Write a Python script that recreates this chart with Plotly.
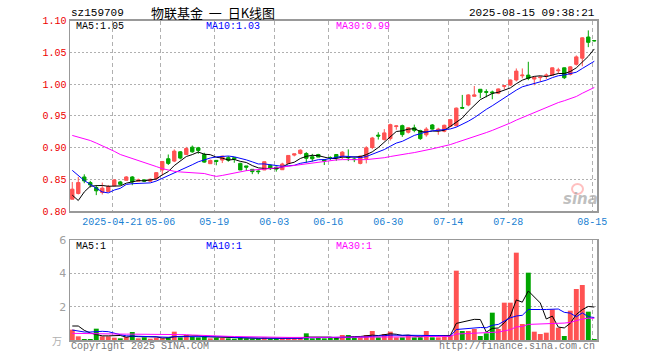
import numpy as np
import pandas as pd
import plotly.graph_objects as go

# ---------------- data ----------------
dates = pd.bdate_range("2025-04-10", "2025-08-15", freq="C",
                       holidays=["2025-05-01", "2025-05-02", "2025-05-05", "2025-06-02"])
dates = [d.strftime("%Y-%m-%d") for d in dates]

open_ = [0.8185, 0.8276, 0.8536, 0.8448, 0.8370, 0.8292, 0.8308, 0.8396, 0.8458, 0.8484,
         0.8536, 0.8470, 0.8490, 0.8470, 0.8510, 0.8646, 0.8823, 0.8786, 0.8932, 0.8890,
         0.9005, 0.8995, 0.8890, 0.8745, 0.8797, 0.8802, 0.8840, 0.8840, 0.8750, 0.8710,
         0.8656, 0.8630, 0.8646, 0.8719, 0.8690, 0.8650, 0.8750, 0.8880, 0.8906, 0.8906,
         0.8854, 0.8890, 0.8807, 0.8843, 0.8890, 0.8867, 0.8850, 0.8820, 0.8750, 0.8828,
         0.9000, 0.9195, 0.9125, 0.9140, 0.9330, 0.9344, 0.9240, 0.9310, 0.9266, 0.9200,
         0.9355, 0.9266, 0.9255, 0.9333, 0.9344, 0.9630, 0.9670, 0.9807, 0.9917, 0.9880,
         0.9875, 0.9855, 0.9963, 0.9984, 1.0063, 1.0130, 1.0140, 1.0078, 1.0100, 1.0130,
         1.0140, 1.0208, 1.0255, 1.0151, 1.0310, 1.0406, 1.0740, 1.0685]
high = [0.8457, 0.8536, 0.8578, 0.8474, 0.8410, 0.8448, 0.8410, 0.8500, 0.8474, 0.8550,
        0.8550, 0.8510, 0.8500, 0.8510, 0.8614, 0.8780, 0.8890, 0.8970, 0.8943, 0.9010,
        0.9031, 0.9010, 0.8917, 0.8810, 0.8800, 0.8870, 0.8864, 0.8840, 0.8760, 0.8710,
        0.8660, 0.8640, 0.8780, 0.8730, 0.8700, 0.8760, 0.8875, 0.8900, 0.8970, 0.8927,
        0.8900, 0.8900, 0.8810, 0.8860, 0.8890, 0.8943, 0.8970, 0.8840, 0.8875, 0.9020,
        0.9167, 0.9240, 0.9290, 0.9375, 0.9350, 0.9360, 0.9320, 0.9360, 0.9280, 0.9320,
        0.9370, 0.9310, 0.9360, 0.9450, 0.9630, 0.9828, 0.9840, 0.9969, 0.9920, 0.9917,
        0.9896, 0.9930, 0.9980, 1.0070, 1.0245, 1.0245, 1.0350, 1.0110, 1.0120, 1.0167,
        1.0260, 1.0255, 1.0260, 1.0280, 1.0450, 1.0735, 1.0844, 1.0690]
low = [0.8185, 0.8260, 0.8438, 0.8370, 0.8250, 0.8260, 0.8300, 0.8396, 0.8406, 0.8480,
       0.8406, 0.8460, 0.8460, 0.8460, 0.8484, 0.8560, 0.8724, 0.8770, 0.8813, 0.8890,
       0.8917, 0.8900, 0.8760, 0.8745, 0.8720, 0.8755, 0.8776, 0.8760, 0.8646, 0.8630,
       0.8580, 0.8580, 0.8646, 0.8646, 0.8620, 0.8646, 0.8750, 0.8860, 0.8890, 0.8760,
       0.8780, 0.8849, 0.8724, 0.8800, 0.8790, 0.8818, 0.8786, 0.8770, 0.8735, 0.8750,
       0.8974, 0.9125, 0.9110, 0.9110, 0.9280, 0.9167, 0.9220, 0.9240, 0.9120, 0.9170,
       0.9280, 0.9200, 0.9240, 0.9320, 0.9330, 0.9615, 0.9650, 0.9800, 0.9776, 0.9790,
       0.9760, 0.9840, 0.9917, 0.9970, 1.0040, 1.0090, 1.0060, 0.9980, 1.0040, 1.0078,
       1.0130, 1.0167, 1.0078, 1.0135, 1.0290, 1.0280, 1.0580, 1.0670]
close = [0.8344, 0.8448, 0.8474, 0.8411, 0.8318, 0.8360, 0.8386, 0.8490, 0.8420, 0.8536,
         0.8458, 0.8490, 0.8470, 0.8500, 0.8604, 0.8780, 0.8750, 0.8943, 0.8833, 0.8984,
         0.8932, 0.8953, 0.8770, 0.8797, 0.8780, 0.8864, 0.8800, 0.8820, 0.8646, 0.8690,
         0.8620, 0.8620, 0.8776, 0.8667, 0.8660, 0.8740, 0.8875, 0.8900, 0.8958, 0.8830,
         0.8823, 0.8849, 0.8786, 0.8840, 0.8840, 0.8927, 0.8840, 0.8810, 0.8864, 0.8995,
         0.9150, 0.9180, 0.9230, 0.9360, 0.9340, 0.9203, 0.9310, 0.9270, 0.9140, 0.9290,
         0.9290, 0.9290, 0.9350, 0.9438, 0.9620, 0.9620, 0.9828, 0.9828, 0.9870, 0.9870,
         0.9860, 0.9922, 0.9974, 1.0063, 1.0203, 1.0140, 1.0090, 1.0104, 1.0109, 1.0140,
         1.0255, 1.0220, 1.0099, 1.0270, 1.0427, 1.0727, 1.0656, 1.0680]
volume = [0.62, 0.22, 0.06, 0.06, 0.68, 0.22, 0.22, 0.14, 0.10, 0.18,
          0.48, 0.10, 0.16, 0.08, 0.14, 0.10, 0.16, 0.50, 0.16, 0.30,
          0.18, 0.16, 0.20, 0.10, 0.14, 0.12, 0.10, 0.08, 0.16, 0.10,
          0.08, 0.08, 0.14, 0.08, 0.08, 0.12, 0.14, 0.10, 0.12, 0.40,
          0.10, 0.12, 0.10, 0.14, 0.14, 0.30, 0.30, 0.16, 0.16, 0.30,
          0.54, 0.16, 0.36, 0.50, 0.16, 0.16, 0.30, 0.16, 0.16, 0.54,
          0.16, 0.16, 0.20, 0.30, 4.16, 0.54, 0.54, 0.66, 0.24, 0.40,
          1.64, 0.66, 2.24, 2.24, 5.24, 0.96, 4.04, 0.50, 0.36, 0.44,
          1.84, 0.74, 0.24, 1.76, 3.06, 3.30, 1.70, 0.06]

# moving-average values at the start of the window (history not shown)
ma5_head = [0.825, 0.8165, 0.830, 0.839]
ma10_head = [0.864, 0.856, 0.848, 0.842, 0.836, 0.830, 0.8285, 0.833, 0.8357]
ma30_head = [0.919, 0.9165, 0.914, 0.911, 0.907, 0.903, 0.898, 0.894, 0.889, 0.886,
             0.883, 0.880, 0.877, 0.8735, 0.870, 0.8667, 0.864, 0.8625, 0.8615, 0.861,
             0.860, 0.8594, 0.859, 0.8565, 0.8545, 0.856, 0.858, 0.860, 0.8615]
vma5_head = [0.84, 0.84, 0.58, 0.42]
vma10_head = [0.60, 0.52, 0.48, 0.48, 0.52, 0.52, 0.50, 0.40, 0.32]
vma30_head = [0.40, 0.39, 0.38, 0.37, 0.37, 0.36, 0.36, 0.36, 0.36, 0.35,
              0.35, 0.35, 0.35, 0.34, 0.34, 0.34, 0.34, 0.34, 0.33, 0.32,
              0.30, 0.28, 0.27, 0.26, 0.25, 0.24, 0.22, 0.21, 0.20]

tick_dates = ["2025-04-21", "2025-05-06", "2025-05-19", "2025-06-03", "2025-06-16",
              "2025-06-30", "2025-07-14", "2025-07-28", "2025-08-15"]
tick_text = ["2025-04-21", "05-06", "05-19", "06-03", "06-16", "06-30", "07-14", "07-28", "08-15"]
price_ticks = [0.80, 0.85, 0.90, 0.95, 1.00, 1.05, 1.10]
vol_ticks = [2, 4, 6]


def moving(vals, n, head):
    m = pd.Series(vals).rolling(n).mean().to_numpy()
    m[:n - 1] = head
    return m


ma5 = moving(close, 5, ma5_head)
ma10 = moving(close, 10, ma10_head)
ma30 = moving(close, 30, ma30_head)
vma5 = moving(volume, 5, vma5_head)
vma10 = moving(volume, 10, vma10_head)
vma30 = moving(volume, 30, vma30_head)

pos = np.arange(len(dates))
RED = "#ff5252"
GREEN = "#00a600"
vol_colors = [RED if c >= o else GREEN for o, c in zip(open_, close)]

W, H = 660, 360
MONO = "Liberation Mono"


def px(x):
    return x / W


def py(y):
    return 1 - y / H


fig = go.Figure()
fig.add_trace(go.Candlestick(
    x=pos, open=open_, high=high, low=low, close=close,
    increasing=dict(line=dict(color=RED, width=1), fillcolor=RED),
    decreasing=dict(line=dict(color=GREEN, width=1), fillcolor=GREEN),
    whiskerwidth=0, xaxis="x", yaxis="y", hoverinfo="skip"))
for m, col in [(ma5, "black"), (ma10, "#0000ff"), (ma30, "#ff00ff")]:
    fig.add_trace(go.Scatter(x=pos, y=m, mode="lines", line=dict(color=col, width=1),
                             xaxis="x", yaxis="y", hoverinfo="skip"))

fig.add_trace(go.Bar(x=pos, y=volume, width=0.82, marker=dict(color=vol_colors, line=dict(width=0)),
                     xaxis="x2", yaxis="y2", hoverinfo="skip"))
for m, col in [(vma5, "black"), (vma10, "#0000ff"), (vma30, "#ff00ff")]:
    fig.add_trace(go.Scatter(x=pos, y=m, mode="lines", line=dict(color=col, width=1),
                             xaxis="x2", yaxis="y2", hoverinfo="skip"))

tickvals = [dates.index(d) - 0.35 for d in tick_dates]
xr = [-0.38, len(dates) - 0.55]
dom_x = [px(70), px(597)]
GRID = "#b0b0b0"
AXL = "#999999"

common_x = dict(domain=dom_x, range=xr, tickvals=tickvals, showgrid=True, gridcolor=GRID,
                griddash="4px,3px", gridwidth=1, showline=True, mirror=True, linecolor=AXL,
                linewidth=1.5, zeroline=False, ticks="", fixedrange=True, automargin=False)

fig.update_layout(
    width=W, height=H, margin=dict(l=0, r=0, t=0, b=0, autoexpand=False),
    paper_bgcolor="white", plot_bgcolor="white", showlegend=False, hovermode=False,
    boxgap=0.2,
    xaxis=dict(**common_x, anchor="y", ticktext=tick_text, rangeslider=dict(visible=False),
               tickfont=dict(family=MONO, size=10, color="#1a7fd2")),
    yaxis=dict(domain=[py(211), py(20.5)], range=[0.80, 1.10], tickvals=price_ticks,
               tickformat=".2f", tickfont=dict(family=MONO, size=10, color="#ee0000"),
               showgrid=True, gridcolor=GRID, griddash="2px,2px", showline=True, mirror=True,
               linecolor=AXL, linewidth=1.5, zeroline=False, ticks="", anchor="x",
               automargin=False, fixedrange=True),
    xaxis2=dict(**common_x, anchor="y2", showticklabels=False),
    yaxis2=dict(domain=[py(340), py(240)], range=[0, 6], tickvals=vol_ticks,
                tickfont=dict(family="DejaVu Sans", size=11, color="#a0a0a0"),
                showgrid=True, gridcolor=GRID, griddash="2px,2px", showline=True, mirror=True,
                linecolor=AXL, linewidth=1.5, zeroline=False, ticks="", anchor="x2",
                automargin=False, fixedrange=True),
)


def note(text, x, y, color="black", anchor="left", size=10, family=MONO):
    fig.add_annotation(text=text, x=px(x), y=py(y), xref="paper", yref="paper",
                       xanchor=anchor, yanchor="middle", showarrow=False,
                       font=dict(family=family, size=size, color=color))


note("sz159709", 69, 13, size=11)
note("物联基金\u00a0\u00a0一\u00a0\u00a0日K线图", 213, 12.5, anchor="center", size=13,
     family="Noto Sans CJK SC")
note("2025-08-15 09:38:21", 597, 13, anchor="right", size=11)
note("MA5:1.05", 74, 27)
note("MA10:1.03", 204, 27, color="#0000ff")
note("MA30:0.99", 334, 27, color="#ff00ff")
note("MA5:1", 74, 246.5)
note("MA10:1", 204, 246.5, color="#0000ff")
note("MA30:1", 334, 246.5, color="#ff00ff")
note("Copyright 2025 SINA.COM", 69, 346, color="#777777")
note("http://finance.sina.com.cn", 597, 346, anchor="right", color="#777777")
note("万", 57, 340, color="#b0b0b0", anchor="center", size=10, family="Noto Sans CJK SC")
note("<b><i>sina</i></b>", 580, 199, color="rgba(170,170,170,0.75)", anchor="center",
     size=15, family="DejaVu Sans")
fig.add_shape(type="circle", xref="paper", yref="paper",
              x0=px(572), x1=px(583), y0=py(194), y1=py(184),
              line=dict(color="rgba(255,150,150,0.6)", width=2))

fig.write_html("out.html", config={"displayModeBar": False, "staticPlot": True},
               post_script="document.body.style.margin='0';document.body.style.padding='0';")
